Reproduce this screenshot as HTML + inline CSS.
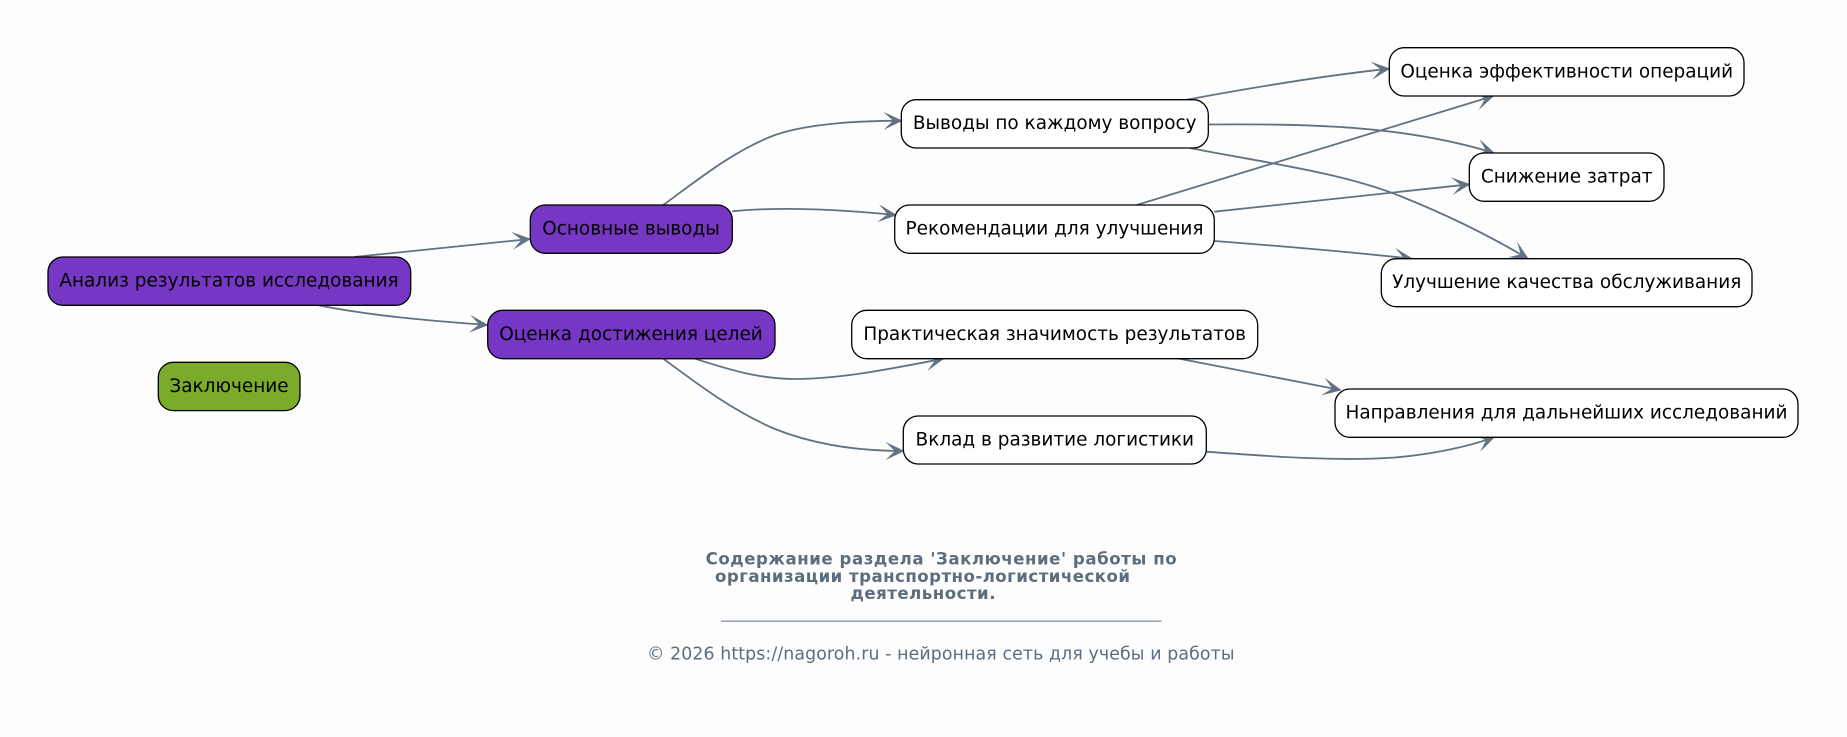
<!DOCTYPE html>
<html lang="ru">
<head>
<meta charset="utf-8">
<title>Заключение</title>
<style>
html,body{margin:0;padding:0;background:#fdfdfd;}
svg{display:block;}
.n{stroke:#000;stroke-width:1.3;}
.w{fill:#fff;}
.p{fill:#7637c4;}
.g{fill:#7aab2b;}
text{font-family:"DejaVu Sans",sans-serif;}
.t{font-size:18.45px;fill:#000;text-anchor:middle;}
.e{fill:none;stroke:#627282;stroke-width:1.8;marker-end:url(#v);}
.h{font-size:16.6px;font-weight:bold;fill:#5d6d7e;}
.c{font-size:17.33px;fill:#5d6d7e;}
</style>
</head>
<body>
<svg width="1847" height="737" viewBox="0 0 1847 737" xmlns="http://www.w3.org/2000/svg">
<defs>
<marker id="v" markerUnits="userSpaceOnUse" markerWidth="24" markerHeight="24" refX="19" refY="12" orient="auto" overflow="visible">
<path d="M1,3 L20,12 L1,21 L10.5,12 Z" fill="#627282"/>
</marker>
</defs>
<rect width="1847" height="737" fill="#fdfdfd"/>

<path class="e" d="M354,257 L530,239"/>
<path class="e" d="M318,305.3 C372,316 432,321 487.5,325"/>
<path class="e" d="M663.3,205 C700,178 735,150 775,135 C810,123 860,121 901.5,120.7"/>
<path class="e" d="M732.3,211.3 C785,206 845,210 896,215"/>
<path class="e" d="M695,358.7 C730,370 760,379 795,379 C840,379 890,369 943.3,358.7"/>
<path class="e" d="M663.3,358.7 C700,386 735,412 775,429 C815,445 860,451 903.5,451"/>
<path class="e" d="M1186.7,99.7 C1250,88 1320,76 1389.3,68.7"/>
<path class="e" d="M1208.3,124.5 C1300,124 1400,124 1494,153"/>
<path class="e" d="M1190,148 C1260,162 1340,172 1400,196 C1450,216 1490,236 1528,258.7"/>
<path class="e" d="M1136.7,205 L1493.3,96"/>
<path class="e" d="M1214.3,211.7 L1469.5,184.3"/>
<path class="e" d="M1214.3,241 C1280,246 1350,252 1412,258.7"/>
<path class="e" d="M1178.3,358.5 L1340.6,390"/>
<path class="e" d="M1206.3,451.7 C1290,458 1345,461 1395,457.5 C1435,454 1470,446 1494,437.3"/>

<rect class="n p" x="48" y="257" width="362.7" height="48.3" rx="15"/>
<text class="t" x="229" y="286.7">Анализ результатов исследования</text>
<rect class="n g" x="158.3" y="362.3" width="141.7" height="48.3" rx="15"/>
<text class="t" x="229" y="392">Заключение</text>
<rect class="n p" x="530.3" y="205" width="202" height="48.3" rx="15"/>
<text class="t" x="631" y="234.6">Основные выводы</text>
<rect class="n p" x="487.7" y="310.3" width="287.3" height="48.4" rx="15"/>
<text class="t" x="631" y="340">Оценка достижения целей</text>

<rect class="n w" x="901.3" y="99.7" width="307" height="48.3" rx="15"/>
<text class="t" x="1054.7" y="129.2">Выводы по каждому вопросу</text>
<rect class="n w" x="894.7" y="205" width="319.6" height="48.3" rx="15"/>
<text class="t" x="1054.5" y="234.6">Рекомендации для улучшения</text>
<rect class="n w" x="851.7" y="310.3" width="406" height="48.4" rx="15"/>
<text class="t" x="1054.7" y="340">Практическая значимость результатов</text>
<rect class="n w" x="903.3" y="416" width="303" height="48" rx="15"/>
<text class="t" x="1054.8" y="445.5">Вклад в развитие логистики</text>

<rect class="n w" x="1389.3" y="47.7" width="354.7" height="48.3" rx="15"/>
<text class="t" x="1566.7" y="77.3">Оценка эффективности операций</text>
<rect class="n w" x="1469.3" y="153" width="194.7" height="48.3" rx="15"/>
<text class="t" x="1566.7" y="182.6">Снижение затрат</text>
<rect class="n w" x="1381.3" y="258.7" width="370.7" height="48" rx="15"/>
<text class="t" x="1566.7" y="288.2">Улучшение качества обслуживания</text>
<rect class="n w" x="1335" y="389" width="463" height="48.3" rx="15"/>
<text class="t" x="1566.5" y="418.6">Направления для дальнейших исследований</text>

<text class="h" x="705.6" y="564.3" textLength="471">Содержание раздела 'Заключение' работы по</text>
<text class="h" x="715" y="581.8" textLength="415">организации транспортно-логистической</text>
<text class="h" x="850.5" y="599.2" textLength="145">деятельности.</text>
<rect x="721" y="620.6" width="440.5" height="1.1" fill="#6f7f8e"/>
<text class="c" x="647" y="659.3" textLength="587.5">© 2026 https://nagoroh.ru - нейронная сеть для учебы и работы</text>
</svg>
</body>
</html>
